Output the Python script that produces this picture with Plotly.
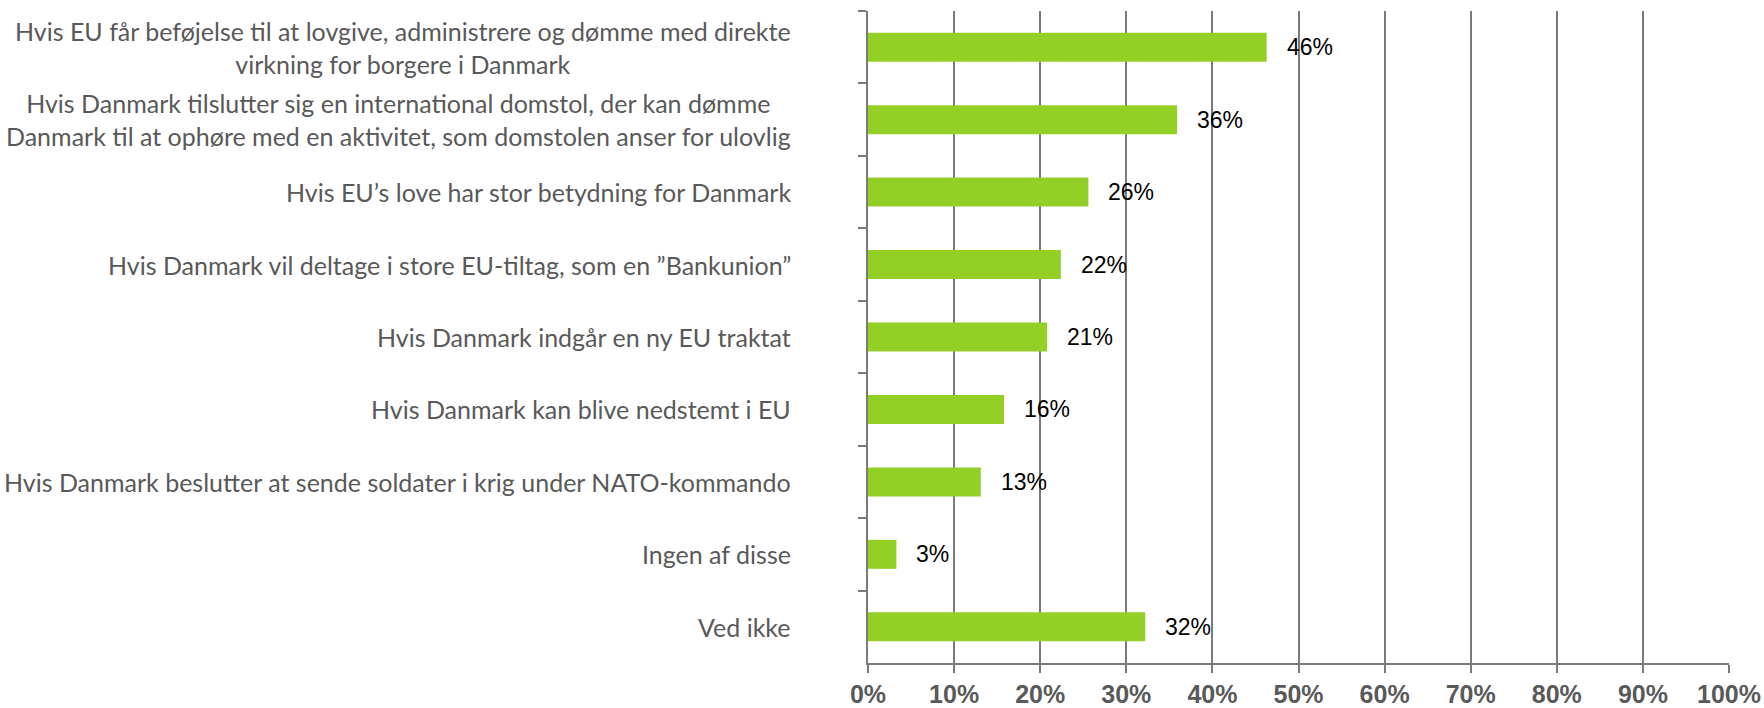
import plotly.graph_objects as go

categories = [
    "Hvis EU får beføjelse til at lovgive, administrere og dømme med direkte<br>virkning for borgere i Danmark",
    "Hvis Danmark tilslutter sig en international domstol, der kan dømme<br>Danmark til at ophøre med en aktivitet, som domstolen anser for ulovlig",
    "Hvis EU’s love har stor betydning for Danmark",
    "Hvis Danmark vil deltage i store EU-tiltag, som en ”Bankunion”",
    "Hvis Danmark indgår en ny EU traktat",
    "Hvis Danmark kan blive nedstemt i EU",
    "Hvis Danmark beslutter at sende soldater i krig under NATO-kommando",
    "Ingen af disse",
    "Ved ikke",
]
values = [46.3, 35.9, 25.6, 22.4, 20.8, 15.8, 13.1, 3.3, 32.2]
value_labels = ["46%", "36%", "26%", "22%", "21%", "16%", "13%", "3%", "32%"]
x_ticks = [0, 10, 20, 30, 40, 50, 60, 70, 80, 90, 100]
x_tick_labels = ["0%", "10%", "20%", "30%", "40%", "50%", "60%", "70%", "80%", "90%", "100%"]

ids = [f"c{i}" for i in range(len(categories))]

fig = go.Figure()
fig.add_trace(go.Bar(
    x=values, y=ids, orientation="h",
    marker=dict(color="#94CF26", line=dict(width=0)),
    width=0.4, hoverinfo="skip",
))

annotations = []
for cid, v, lab in zip(ids, values, value_labels):
    annotations.append(dict(
        x=v, y=cid, xref="x", yref="y", text=lab, showarrow=False,
        xanchor="left", yanchor="middle", xshift=18,
        font=dict(family="Liberation Sans, Arial", size=23, color="#000000"),
    ))
for cid, cat in zip(ids, categories):
    annotations.append(dict(
        x=0, y=cid, xref="paper", yref="y", text=cat, showarrow=False,
        xanchor="right", yanchor="middle", xshift=-75, align="center",
        font=dict(family="Lato", size=25, color="#595959"),
    ))

grid_color = "#7a7a7a"
fig.update_layout(
    width=1764, height=708,
    margin=dict(l=868, r=35, t=11, b=45),
    paper_bgcolor="white", plot_bgcolor="white",
    showlegend=False,
    bargap=0.6,
    annotations=annotations,
    xaxis=dict(
        range=[0, 100], tickvals=x_ticks, ticktext=x_tick_labels,
        automargin=False,
        showgrid=True, gridcolor=grid_color, gridwidth=2,
        showline=True, linecolor=grid_color, linewidth=2,
        ticks="outside", ticklen=8, tickwidth=2, tickcolor=grid_color,
        tickfont=dict(family="Liberation Sans, Arial", size=25, color="#595959", weight="bold"),
        zeroline=False,
    ),
    yaxis=dict(
        categoryorder="array", categoryarray=ids, autorange="reversed",
        automargin=False,
        showticklabels=False, tickson="boundaries",
        ticks="outside", ticklen=8, tickwidth=2, tickcolor=grid_color,
        showline=True, linecolor=grid_color, linewidth=2,
        showgrid=False, zeroline=False,
    ),
)

fig.write_html(
    "out.html",
    config={"displayModeBar": False},
    post_script="document.body.style.margin='0';document.body.style.overflow='hidden';",
)
